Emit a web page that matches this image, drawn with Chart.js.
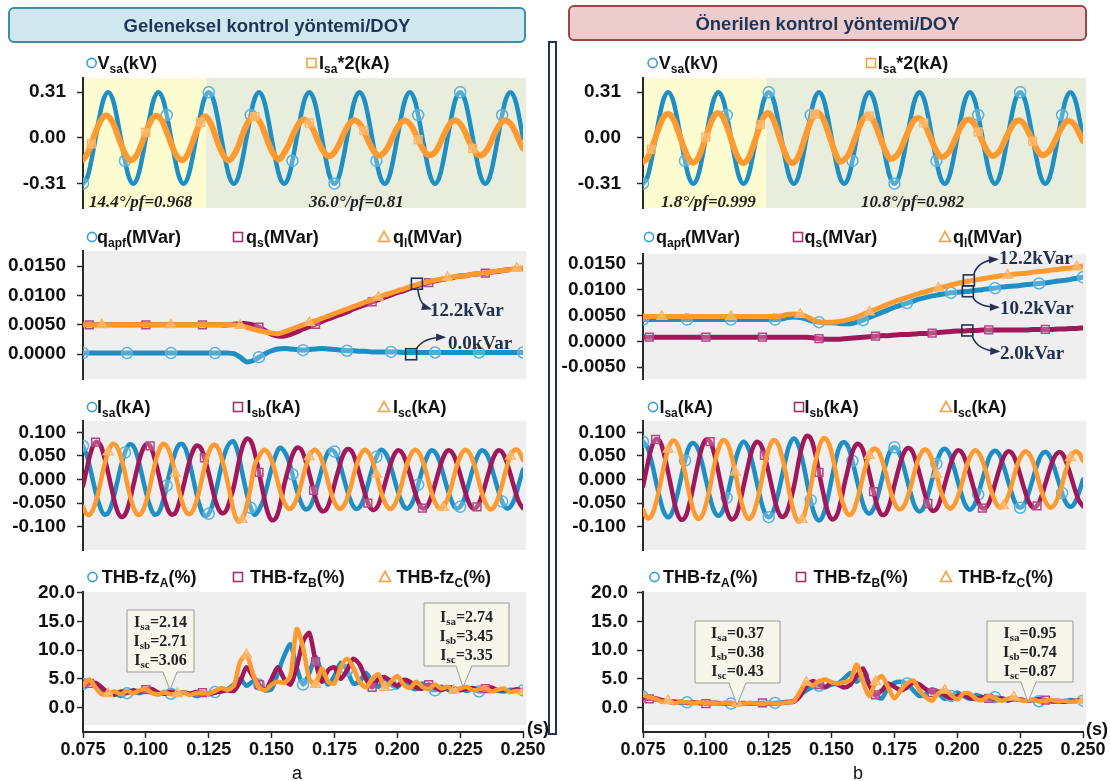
<!DOCTYPE html>
<html><head><meta charset="utf-8">
<script src="https://cdn.jsdelivr.net/npm/chart.js@4.4.1/dist/chart.umd.min.js"></script>
<style>
html,body{margin:0;padding:0;background:#fff;}
#page{position:relative;width:1110px;height:781px;overflow:hidden;}
.pn{position:absolute;}
#ov{position:absolute;left:0;top:0;pointer-events:none;}
.lg{font:bold 18px "Liberation Sans",Arial,sans-serif;fill:#111}
.sb{font-size:12px}
.ttl{font:bold 18.5px "Liberation Sans",Arial,sans-serif;fill:#1d3557}
.pf{font:italic bold 17px "Liberation Serif","Times New Roman",serif;fill:#222}
.kv{font:bold 19px "Liberation Serif","Times New Roman",serif;fill:#22304d}
.co{font:bold 16px "Liberation Serif","Times New Roman",serif;fill:#222}
.cs{font-size:11px}
.ax{font:bold 18px "Liberation Sans",Arial,sans-serif;fill:#111}
.ab{font:18px "Liberation Sans",Arial,sans-serif;fill:#111}
</style></head><body><div id="page">
<div id="charts"></div>
<svg id="ov" width="1110" height="781" xmlns="http://www.w3.org/2000/svg">
<rect x="9" y="8" width="516" height="34" rx="5" fill="#cfe7ef" stroke="#3f8ea3" stroke-width="2"/>
<text class="ttl" x="267" y="31.5" text-anchor="middle">Geleneksel kontrol yöntemi/DOY</text>
<rect x="569" y="6" width="517" height="34" rx="5" fill="#eccccc" stroke="#9e4646" stroke-width="2"/>
<text class="ttl" x="827.5" y="29.5" text-anchor="middle">Önerilen kontrol yöntemi/DOY</text>
<rect x="549" y="42" width="7" height="692" fill="#fff" stroke="#1e3555" stroke-width="2"/>

<!-- row 1 legends -->
<circle cx="91.6" cy="63" r="4.6" fill="none" stroke="#3aa0d2" stroke-width="1.6"/>
<text class="lg" x="97.5" y="69">V<tspan class="sb" dy="4">sa</tspan><tspan dy="-4">(kV)</tspan></text>
<rect x="307" y="58.5" width="9" height="9" fill="none" stroke="#f7a045" stroke-width="1.6"/>
<text class="lg" x="319" y="69">I<tspan class="sb" dy="4">sa</tspan><tspan dy="-4">*2(kA)</tspan></text>
<circle cx="652.7" cy="63" r="4.6" fill="none" stroke="#3aa0d2" stroke-width="1.6"/>
<text class="lg" x="658.7" y="69">V<tspan class="sb" dy="4">sa</tspan><tspan dy="-4">(kV)</tspan></text>
<rect x="866.5" y="58.5" width="9" height="9" fill="none" stroke="#f7a045" stroke-width="1.6"/>
<text class="lg" x="877.8" y="69">I<tspan class="sb" dy="4">sa</tspan><tspan dy="-4">*2(kA)</tspan></text>

<!-- row 2 legends -->
<circle cx="92" cy="237" r="4.6" fill="none" stroke="#3aa0d2" stroke-width="1.6"/>
<text class="lg" x="97" y="243">q<tspan class="sb" dy="4">apf</tspan><tspan dy="-4">(MVar)</tspan></text>
<rect x="233.5" y="232.5" width="9" height="9" fill="none" stroke="#a2326c" stroke-width="1.6"/>
<text class="lg" x="246" y="243">q<tspan class="sb" dy="4">s</tspan><tspan dy="-4">(MVar)</tspan></text>
<polygon points="384,231.5 389.5,241.5 378.5,241.5" fill="none" stroke="#f7a045" stroke-width="1.6"/>
<text class="lg" x="393" y="243">q<tspan class="sb" dy="4">l</tspan><tspan dy="-4">(MVar)</tspan></text>
<circle cx="649" cy="237" r="4.6" fill="none" stroke="#3aa0d2" stroke-width="1.6"/>
<text class="lg" x="656" y="243">q<tspan class="sb" dy="4">apf</tspan><tspan dy="-4">(MVar)</tspan></text>
<rect x="793.5" y="232.5" width="9" height="9" fill="none" stroke="#a2326c" stroke-width="1.6"/>
<text class="lg" x="804.6" y="243">q<tspan class="sb" dy="4">s</tspan><tspan dy="-4">(MVar)</tspan></text>
<polygon points="945,231.5 950.5,241.5 939.5,241.5" fill="none" stroke="#f7a045" stroke-width="1.6"/>
<text class="lg" x="953" y="243">q<tspan class="sb" dy="4">l</tspan><tspan dy="-4">(MVar)</tspan></text>

<!-- row 3 legends -->
<circle cx="92" cy="407" r="4.6" fill="none" stroke="#3aa0d2" stroke-width="1.6"/>
<text class="lg" x="97" y="413">I<tspan class="sb" dy="4">sa</tspan><tspan dy="-4">(kA)</tspan></text>
<rect x="233.5" y="402.5" width="9" height="9" fill="none" stroke="#a2326c" stroke-width="1.6"/>
<text class="lg" x="246.4" y="413">I<tspan class="sb" dy="4">sb</tspan><tspan dy="-4">(kA)</tspan></text>
<polygon points="384,401.5 389.5,411.5 378.5,411.5" fill="none" stroke="#f7a045" stroke-width="1.6"/>
<text class="lg" x="393" y="413">I<tspan class="sb" dy="4">sc</tspan><tspan dy="-4">(kA)</tspan></text>
<circle cx="653" cy="407" r="4.6" fill="none" stroke="#3aa0d2" stroke-width="1.6"/>
<text class="lg" x="659.4" y="413">I<tspan class="sb" dy="4">sa</tspan><tspan dy="-4">(kA)</tspan></text>
<rect x="794.5" y="402.5" width="9" height="9" fill="none" stroke="#a2326c" stroke-width="1.6"/>
<text class="lg" x="804.6" y="413">I<tspan class="sb" dy="4">sb</tspan><tspan dy="-4">(kA)</tspan></text>
<polygon points="946,401.5 951.5,411.5 940.5,411.5" fill="none" stroke="#f7a045" stroke-width="1.6"/>
<text class="lg" x="953" y="413">I<tspan class="sb" dy="4">sc</tspan><tspan dy="-4">(kA)</tspan></text>

<!-- row 4 legends -->
<circle cx="92.5" cy="577" r="4.6" fill="none" stroke="#3aa0d2" stroke-width="1.6"/>
<text class="lg" x="101.8" y="583">THB-fz<tspan class="sb" dy="4">A</tspan><tspan dy="-4">(%)</tspan></text>
<rect x="233.5" y="572.5" width="9" height="9" fill="none" stroke="#a2326c" stroke-width="1.6"/>
<text class="lg" x="250" y="583">THB-fz<tspan class="sb" dy="4">B</tspan><tspan dy="-4">(%)</tspan></text>
<polygon points="385,571.5 390.5,581.5 379.5,581.5" fill="none" stroke="#f7a045" stroke-width="1.6"/>
<text class="lg" x="396.4" y="583">THB-fz<tspan class="sb" dy="4">C</tspan><tspan dy="-4">(%)</tspan></text>
<circle cx="654.5" cy="577" r="4.6" fill="none" stroke="#3aa0d2" stroke-width="1.6"/>
<text class="lg" x="663" y="583">THB-fz<tspan class="sb" dy="4">A</tspan><tspan dy="-4">(%)</tspan></text>
<rect x="796.5" y="572.5" width="9" height="9" fill="none" stroke="#a2326c" stroke-width="1.6"/>
<text class="lg" x="813.4" y="583">THB-fz<tspan class="sb" dy="4">B</tspan><tspan dy="-4">(%)</tspan></text>
<polygon points="946,571.5 951.5,581.5 940.5,581.5" fill="none" stroke="#f7a045" stroke-width="1.6"/>
<text class="lg" x="958.5" y="583">THB-fz<tspan class="sb" dy="4">C</tspan><tspan dy="-4">(%)</tspan></text>

<!-- row 1 notes -->
<text class="pf" x="89" y="207">14.4°/pf=0.968</text>
<text class="pf" x="309" y="207">36.0°/pf=0.81</text>
<text class="pf" x="661" y="207">1.8°/pf=0.999</text>
<text class="pf" x="861" y="207">10.8°/pf=0.982</text>

<!-- kVar notes -->
<text class="kv" x="430" y="316">12.2kVar</text>
<text class="kv" x="448" y="349">0.0kVar</text>
<text class="kv" x="999" y="264">12.2kVar</text>
<text class="kv" x="1000" y="314">10.2kVar</text>
<text class="kv" x="1000" y="359">2.0kVar</text>

<!-- callouts -->
<path d="M127,610 H194 V672 H177 L170,690 L163,672 H127 Z" fill="#f6f6ea" stroke="#9a9a9a" stroke-width="1"/>
<text class="co" x="160.5" y="627" text-anchor="middle">I<tspan class="cs" dy="3">sa</tspan><tspan dy="-3">=2.14</tspan></text>
<text class="co" x="160.5" y="646" text-anchor="middle">I<tspan class="cs" dy="3">sb</tspan><tspan dy="-3">=2.71</tspan></text>
<text class="co" x="160.5" y="665" text-anchor="middle">I<tspan class="cs" dy="3">sc</tspan><tspan dy="-3">=3.06</tspan></text>
<path d="M424,603 H509 V666 H472 L463,687 L456,666 H424 Z" fill="#f6f6ea" stroke="#9a9a9a" stroke-width="1"/>
<text class="co" x="466.5" y="622" text-anchor="middle">I<tspan class="cs" dy="3">sa</tspan><tspan dy="-3">=2.74</tspan></text>
<text class="co" x="466.5" y="641" text-anchor="middle">I<tspan class="cs" dy="3">sb</tspan><tspan dy="-3">=3.45</tspan></text>
<text class="co" x="466.5" y="660" text-anchor="middle">I<tspan class="cs" dy="3">sc</tspan><tspan dy="-3">=3.35</tspan></text>
<path d="M695,621 H780 V683 H746 L737,705 L729,683 H695 Z" fill="#f6f6ea" stroke="#9a9a9a" stroke-width="1"/>
<text class="co" x="737.5" y="638" text-anchor="middle">I<tspan class="cs" dy="3">sa</tspan><tspan dy="-3">=0.37</tspan></text>
<text class="co" x="737.5" y="657" text-anchor="middle">I<tspan class="cs" dy="3">sb</tspan><tspan dy="-3">=0.38</tspan></text>
<text class="co" x="737.5" y="676" text-anchor="middle">I<tspan class="cs" dy="3">sc</tspan><tspan dy="-3">=0.43</tspan></text>
<path d="M987,621 H1073 V682 H1036 L1028,702 L1021,682 H987 Z" fill="#f6f6ea" stroke="#9a9a9a" stroke-width="1"/>
<text class="co" x="1030" y="638" text-anchor="middle">I<tspan class="cs" dy="3">sa</tspan><tspan dy="-3">=0.95</tspan></text>
<text class="co" x="1030" y="657" text-anchor="middle">I<tspan class="cs" dy="3">sb</tspan><tspan dy="-3">=0.74</tspan></text>
<text class="co" x="1030" y="676" text-anchor="middle">I<tspan class="cs" dy="3">sc</tspan><tspan dy="-3">=0.87</tspan></text>

<text class="ax" x="527" y="734">(s)</text>
<text class="ax" x="1086" y="735">(s)</text>
<text class="ab" x="297" y="779" text-anchor="middle">a</text>
<text class="ab" x="858" y="779" text-anchor="middle">b</text>
</svg>
</div>
<script>
// ---------- time grids (s) ----------
const tFine = [
0.0750,0.0767,0.0783,0.0800,0.0817,0.0833,0.0850,0.0867,0.0883,0.0900,0.0917,0.0933,
0.0950,0.0967,0.0983,0.1000,0.1017,0.1033,0.1050,0.1067,0.1083,0.1100,0.1117,0.1133,
0.1150,0.1167,0.1183,0.1200,0.1217,0.1233,0.1250,0.1267,0.1283,0.1300,0.1317,0.1333,
0.1350,0.1367,0.1383,0.1400,0.1417,0.1433,0.1450,0.1467,0.1483,0.1500,0.1517,0.1533,
0.1550,0.1567,0.1583,0.1600,0.1617,0.1633,0.1650,0.1667,0.1683,0.1700,0.1717,0.1733,
0.1750,0.1767,0.1783,0.1800,0.1817,0.1833,0.1850,0.1867,0.1883,0.1900,0.1917,0.1933,
0.1950,0.1967,0.1983,0.2000,0.2017,0.2033,0.2050,0.2067,0.2083,0.2100,0.2117,0.2133,
0.2150,0.2167,0.2183,0.2200,0.2217,0.2233,0.2250,0.2267,0.2283,0.2300,0.2317,0.2333,
0.2350,0.2367,0.2383,0.2400,0.2417,0.2433,0.2450,0.2467,0.2483,0.2500];
const tHalf = [
0.0750,0.0775,0.0800,0.0825,0.0850,0.0875,0.0900,0.0925,0.0950,0.0975,
0.1000,0.1025,0.1050,0.1075,0.1100,0.1125,0.1150,0.1175,0.1200,0.1225,
0.1250,0.1275,0.1300,0.1325,0.1350,0.1375,0.1400,0.1425,0.1450,0.1475,
0.1500,0.1525,0.1550,0.1575,0.1600,0.1625,0.1650,0.1675,0.1700,0.1725,
0.1750,0.1775,0.1800,0.1825,0.1850,0.1875,0.1900,0.1925,0.1950,0.1975,
0.2000,0.2025,0.2050,0.2075,0.2100,0.2125,0.2150,0.2175,0.2200,0.2225,
0.2250,0.2275,0.2300,0.2325,0.2350,0.2375,0.2400,0.2425,0.2450,0.2475,
0.2500];

// ---------- row 1: Vsa (kV) and Isa*2 (kA) ----------
const vsa = [
-0.310,-0.268,-0.155,0,0.155,0.268,0.310,0.268,0.155,0,-0.155,-0.268,
-0.310,-0.268,-0.155,0,0.155,0.268,0.310,0.268,0.155,0,-0.155,-0.268,
-0.310,-0.268,-0.155,0,0.155,0.268,0.310,0.268,0.155,0,-0.155,-0.268,
-0.310,-0.268,-0.155,0,0.155,0.268,0.310,0.268,0.155,0,-0.155,-0.268,
-0.310,-0.268,-0.155,0,0.155,0.268,0.310,0.268,0.155,0,-0.155,-0.268,
-0.310,-0.268,-0.155,0,0.155,0.268,0.310,0.268,0.155,0,-0.155,-0.268,
-0.310,-0.268,-0.155,0,0.155,0.268,0.310,0.268,0.155,0,-0.155,-0.268,
-0.310,-0.268,-0.155,0,0.155,0.268,0.310,0.268,0.155,0,-0.155,-0.268,
-0.310,-0.268,-0.155,0,0.155,0.268,0.310,0.268,0.155,0];
const isaL = [
-0.147,-0.109,-0.041,0.038,0.106,0.146,0.147,0.109,0.041,-0.038,-0.106,-0.146,
-0.145,-0.107,-0.040,0.037,0.105,0.144,0.145,0.107,0.040,-0.037,-0.105,-0.144,
-0.147,-0.109,-0.041,0.038,0.106,0.146,0.123,0.062,-0.016,-0.089,-0.139,-0.151,
-0.117,-0.059,0.015,0.085,0.132,0.144,0.117,0.059,-0.015,-0.085,-0.132,-0.144,
-0.101,-0.051,0.013,0.073,0.114,0.124,0.101,0.051,-0.013,-0.073,-0.114,-0.124,
-0.097,-0.049,0.013,0.071,0.110,0.119,0.097,0.049,-0.013,-0.071,-0.110,-0.119,
-0.095,-0.048,0.012,0.069,0.108,0.117,0.095,0.048,-0.012,-0.069,-0.108,-0.117,
-0.097,-0.049,0.013,0.071,0.110,0.119,0.097,0.049,-0.013,-0.071,-0.110,-0.119,
-0.097,-0.049,0.013,0.071,0.110,0.119,0.097,0.049,-0.013,-0.071];
const isaR = [
-0.162,-0.138,-0.077,0.005,0.085,0.143,0.162,0.138,0.077,-0.005,-0.085,-0.143,
-0.168,-0.143,-0.079,0.005,0.089,0.148,0.168,0.143,0.079,-0.005,-0.089,-0.148,
-0.170,-0.144,-0.080,0.005,0.090,0.150,0.167,0.129,0.056,-0.032,-0.111,-0.161,
-0.167,-0.129,-0.056,0.032,0.111,0.161,0.167,0.129,0.056,-0.032,-0.111,-0.161,
-0.147,-0.114,-0.049,0.028,0.098,0.142,0.147,0.114,0.049,-0.028,-0.098,-0.142,
-0.133,-0.102,-0.044,0.025,0.088,0.127,0.133,0.102,0.044,-0.025,-0.088,-0.127,
-0.123,-0.095,-0.041,0.023,0.082,0.118,0.123,0.095,0.041,-0.023,-0.082,-0.118,
-0.118,-0.091,-0.039,0.022,0.078,0.113,0.118,0.091,0.039,-0.022,-0.078,-0.113,
-0.113,-0.087,-0.038,0.022,0.075,0.109,0.113,0.087,0.038,-0.022];

// ---------- row 2: reactive power (MVar) ----------
const qapfL = [
0.0002,0.0002,0.0002,0.0002,0.0002,0.0002,0.0002,0.0002,0.0002,0.0002,
0.0002,0.0002,0.0002,0.0002,0.0002,0.0002,0.0002,0.0002,0.0002,0.0002,
0.0002,0.0002,0.0002,0.0002,0.0001,-0.0005,-0.0013,-0.0011,-0.0005,0.0001,
0.0006,0.0009,0.0010,0.0009,0.0008,0.0007,0.0008,0.0009,0.0010,0.0009,
0.0008,0.0007,0.0006,0.0006,0.0005,0.0005,0.0004,0.0004,0.0004,0.0004,
0.0004,0.0003,0.0003,0.0003,0.0003,0.0003,0.0003,0.0003,0.0003,0.0003,
0.0003,0.0003,0.0003,0.0003,0.0003,0.0003,0.0003,0.0003,0.0003,0.0003,
0.0003];
const qsL = [
0.0050,0.0050,0.0050,0.0050,0.0050,0.0050,0.0050,0.0050,0.0050,0.0050,
0.0050,0.0050,0.0050,0.0050,0.0050,0.0050,0.0050,0.0050,0.0050,0.0050,
0.0050,0.0050,0.0050,0.0050,0.0051,0.0052,0.0052,0.0050,0.0046,0.0040,
0.0034,0.0031,0.0031,0.0034,0.0038,0.0043,0.0047,0.0051,0.0056,0.0060,
0.0064,0.0068,0.0072,0.0077,0.0081,0.0085,0.0089,0.0093,0.0097,0.0101,
0.0105,0.0108,0.0112,0.0116,0.0119,0.0122,0.0125,0.0127,0.0129,0.0131,
0.0133,0.0134,0.0136,0.0137,0.0138,0.0140,0.0141,0.0143,0.0144,0.0145,
0.0146];
const qlL = [
0.0050,0.0050,0.0050,0.0050,0.0050,0.0050,0.0050,0.0050,0.0050,0.0050,
0.0050,0.0050,0.0050,0.0050,0.0050,0.0050,0.0050,0.0050,0.0050,0.0050,
0.0050,0.0050,0.0050,0.0050,0.0050,0.0049,0.0046,0.0043,0.0040,0.0038,
0.0036,0.0035,0.0038,0.0042,0.0046,0.0050,0.0054,0.0057,0.0061,0.0065,
0.0069,0.0073,0.0077,0.0081,0.0085,0.0089,0.0093,0.0097,0.0101,0.0104,
0.0108,0.0111,0.0115,0.0118,0.0121,0.0124,0.0126,0.0128,0.0130,0.0132,
0.0133,0.0134,0.0136,0.0137,0.0139,0.0140,0.0142,0.0143,0.0144,0.0146,
0.0147];
const qapfR = [
0.0042,0.0042,0.0042,0.0042,0.0042,0.0042,0.0042,0.0042,0.0042,0.0042,
0.0042,0.0042,0.0042,0.0042,0.0042,0.0042,0.0042,0.0042,0.0042,0.0042,
0.0042,0.0042,0.0043,0.0046,0.0047,0.0046,0.0043,0.0039,0.0037,0.0036,
0.0036,0.0035,0.0034,0.0034,0.0037,0.0041,0.0046,0.0051,0.0056,0.0061,
0.0066,0.0070,0.0074,0.0078,0.0082,0.0085,0.0088,0.0090,0.0092,0.0094,
0.0095,0.0096,0.0097,0.0099,0.0100,0.0102,0.0103,0.0105,0.0106,0.0107,
0.0108,0.0110,0.0111,0.0112,0.0113,0.0115,0.0117,0.0118,0.0120,0.0122,
0.0124];
const qsR = [
0.0008,0.0008,0.0008,0.0008,0.0008,0.0008,0.0008,0.0008,0.0008,0.0008,
0.0008,0.0008,0.0008,0.0008,0.0008,0.0008,0.0008,0.0008,0.0008,0.0008,
0.0008,0.0008,0.0008,0.0008,0.0008,0.0008,0.0008,0.0007,0.0005,0.0004,
0.0004,0.0004,0.0005,0.0006,0.0007,0.0008,0.0009,0.0010,0.0011,0.0011,
0.0012,0.0013,0.0013,0.0014,0.0015,0.0015,0.0016,0.0017,0.0018,0.0019,
0.0020,0.0020,0.0021,0.0021,0.0022,0.0022,0.0022,0.0022,0.0022,0.0022,
0.0022,0.0022,0.0023,0.0023,0.0023,0.0023,0.0024,0.0024,0.0025,0.0025,
0.0026];
const qlR = [
0.0048,0.0048,0.0048,0.0048,0.0048,0.0048,0.0048,0.0048,0.0048,0.0048,
0.0048,0.0048,0.0048,0.0048,0.0048,0.0048,0.0048,0.0048,0.0048,0.0048,
0.0048,0.0048,0.0049,0.0052,0.0053,0.0052,0.0048,0.0042,0.0038,0.0037,
0.0037,0.0038,0.0040,0.0043,0.0047,0.0052,0.0057,0.0062,0.0067,0.0072,
0.0077,0.0081,0.0085,0.0089,0.0093,0.0096,0.0100,0.0103,0.0106,0.0109,
0.0112,0.0115,0.0117,0.0119,0.0121,0.0123,0.0125,0.0127,0.0128,0.0130,
0.0131,0.0132,0.0134,0.0135,0.0136,0.0138,0.0139,0.0141,0.0142,0.0144,
0.0146];
// marked points [t, value] for the kVar notes
const kvarPtsL = [[0.2078,0.0120],[0.2055,0.0000]];
const kvarPtsR = [[0.2046,0.0118],[0.2042,0.0097],[0.2040,0.0021]];

// ---------- row 3: phase currents (kA) ----------
const iaL = [
0.071,0.048,0.013,-0.026,-0.057,-0.074,-0.071,-0.048,-0.013,0.026,0.057,0.074,
0.071,0.048,0.013,-0.026,-0.057,-0.074,-0.071,-0.048,-0.013,0.026,0.057,0.074,
0.073,0.050,0.014,-0.027,-0.060,-0.077,-0.073,-0.050,-0.014,0.027,0.060,0.077,
0.080,0.055,0.015,-0.027,-0.060,-0.075,-0.064,-0.044,-0.012,0.023,0.052,0.067,
0.060,0.041,0.011,-0.022,-0.049,-0.063,-0.060,-0.041,-0.011,0.022,0.049,0.063,
0.059,0.041,0.011,-0.022,-0.048,-0.062,-0.059,-0.041,-0.011,0.022,0.048,0.062,
0.058,0.040,0.011,-0.021,-0.047,-0.061,-0.058,-0.040,-0.011,0.021,0.047,0.061,
0.058,0.040,0.011,-0.021,-0.047,-0.061,-0.058,-0.040,-0.011,0.021,0.047,0.061,
0.058,0.040,0.011,-0.021,-0.047,-0.061,-0.058,-0.040,-0.011,0.021];
const ibL = [
-0.014,0.027,0.061,0.079,0.075,0.051,0.014,-0.027,-0.061,-0.079,-0.075,-0.051,
-0.013,0.026,0.057,0.074,0.071,0.048,0.013,-0.026,-0.057,-0.074,-0.071,-0.048,
-0.013,0.025,0.055,0.071,0.068,0.046,0.013,-0.025,-0.055,-0.071,-0.068,-0.046,
-0.015,0.030,0.067,0.086,0.082,0.056,0.015,-0.030,-0.067,-0.086,-0.082,-0.056,
-0.012,0.023,0.052,0.067,0.064,0.044,0.012,-0.023,-0.052,-0.067,-0.064,-0.044,
-0.011,0.022,0.050,0.064,0.061,0.042,0.011,-0.022,-0.050,-0.064,-0.061,-0.042,
-0.011,0.021,0.047,0.061,0.058,0.040,0.011,-0.021,-0.047,-0.061,-0.058,-0.040,
-0.011,0.021,0.047,0.061,0.058,0.040,0.011,-0.021,-0.047,-0.061,-0.058,-0.040,
-0.011,0.021,0.047,0.061,0.058,0.040,0.011,-0.021,-0.047,-0.061];
const icL = [
-0.058,-0.075,-0.071,-0.049,-0.013,0.026,0.058,0.075,0.071,0.049,0.013,-0.026,
-0.058,-0.075,-0.071,-0.049,-0.013,0.026,0.058,0.075,0.071,0.049,0.013,-0.026,
-0.057,-0.073,-0.070,-0.048,-0.013,0.025,0.057,0.073,0.070,0.048,0.013,-0.025,
-0.069,-0.089,-0.085,-0.058,-0.016,0.031,0.048,0.062,0.059,0.041,0.011,-0.022,
-0.048,-0.062,-0.059,-0.041,-0.011,0.022,0.048,0.062,0.059,0.041,0.011,-0.022,
-0.048,-0.062,-0.059,-0.041,-0.011,0.022,0.048,0.062,0.059,0.041,0.011,-0.022,
-0.048,-0.062,-0.059,-0.041,-0.011,0.022,0.048,0.062,0.059,0.041,0.011,-0.022,
-0.048,-0.062,-0.059,-0.041,-0.011,0.022,0.048,0.062,0.059,0.041,0.011,-0.022,
-0.049,-0.063,-0.060,-0.041,-0.011,0.022,0.049,0.063,0.060,0.041];
const iaR = [
0.080,0.069,0.040,0.000,-0.040,-0.069,-0.080,-0.069,-0.040,0.000,0.040,0.069,
0.077,0.067,0.039,0.000,-0.039,-0.067,-0.077,-0.067,-0.039,0.000,0.039,0.067,
0.080,0.069,0.040,0.000,-0.040,-0.069,-0.080,-0.069,-0.040,0.000,0.042,0.074,
0.087,0.075,0.044,0.000,-0.044,-0.075,-0.087,-0.075,-0.044,0.000,0.042,0.071,
0.079,0.068,0.039,0.000,-0.037,-0.063,-0.072,-0.062,-0.036,0.000,0.035,0.060,
0.068,0.059,0.034,0.000,-0.034,-0.059,-0.068,-0.059,-0.034,0.000,0.033,0.057,
0.065,0.056,0.032,0.000,-0.032,-0.055,-0.064,-0.055,-0.032,0.000,0.031,0.053,
0.061,0.053,0.030,0.000,-0.030,-0.052,-0.060,-0.052,-0.030,0.000,0.030,0.051,
0.058,0.050,0.029,0.000,-0.029,-0.050,-0.058,-0.050,-0.029,0.000];
const ibR = [
-0.015,0.029,0.066,0.085,0.081,0.055,0.015,-0.029,-0.066,-0.085,-0.081,-0.055,
-0.015,0.029,0.065,0.084,0.080,0.055,0.015,-0.029,-0.065,-0.084,-0.080,-0.055,
-0.014,0.027,0.061,0.079,0.075,0.051,0.014,-0.027,-0.061,-0.079,-0.075,-0.051,
-0.016,0.032,0.071,0.092,0.087,0.060,0.015,-0.029,-0.065,-0.084,-0.080,-0.055,
-0.013,0.026,0.058,0.075,0.071,0.049,0.013,-0.026,-0.058,-0.075,-0.071,-0.049,
-0.012,0.023,0.051,0.066,0.063,0.043,0.012,-0.023,-0.051,-0.066,-0.063,-0.043,
-0.011,0.021,0.047,0.061,0.058,0.040,0.011,-0.021,-0.047,-0.061,-0.058,-0.040,
-0.010,0.021,0.046,0.059,0.056,0.039,0.010,-0.021,-0.046,-0.059,-0.056,-0.039,
-0.010,0.020,0.044,0.057,0.055,0.037,0.010,-0.020,-0.044,-0.057];
const icR = [
-0.064,-0.082,-0.078,-0.053,-0.014,0.028,0.064,0.082,0.078,0.053,0.014,-0.028,
-0.064,-0.083,-0.079,-0.054,-0.015,0.029,0.064,0.083,0.079,0.054,0.015,-0.029,
-0.064,-0.083,-0.079,-0.054,-0.015,0.029,0.064,0.083,0.079,0.054,0.015,-0.029,
-0.069,-0.089,-0.085,-0.058,-0.016,0.031,0.067,0.087,0.083,0.057,0.015,-0.028,
-0.058,-0.075,-0.071,-0.047,-0.012,0.023,0.051,0.065,0.062,0.042,0.011,-0.022,
-0.049,-0.063,-0.060,-0.041,-0.011,0.022,0.049,0.063,0.060,0.041,0.011,-0.022,
-0.047,-0.061,-0.058,-0.040,-0.011,0.021,0.047,0.061,0.058,0.040,0.011,-0.021,
-0.046,-0.059,-0.056,-0.039,-0.010,0.021,0.046,0.059,0.056,0.039,0.010,-0.021,
-0.046,-0.059,-0.056,-0.039,-0.010,0.021,0.046,0.059,0.056,0.039];

// ---------- row 4: THD (%) ----------
const thdAL = [
4.1,4.6,4.0,3.0,2.4,2.6,2.0,2.5,2.8,2.5, 2.9,2.6,2.3,2.7,2.4,2.2,2.6,2.4,2.0,2.3,
2.5,2.7,3.0,3.2,4.0,5.0,3.8,4.5,4.0,3.0, 3.2,6.0,9.0,11.0,7.0,4.0,6.0,8.8,6.0,4.0,
5.5,7.8,6.5,4.2,4.5,6.0,4.5,3.6,5.2,4.0, 3.5,4.6,3.6,3.2,4.2,3.3,3.0,3.6,3.1,2.8,
3.3,2.9,3.2,2.8,3.0,3.2,2.9,2.8,3.1,3.0, 3.0];
const thdBL = [
3.8,4.2,4.3,3.5,2.6,2.2,2.8,2.6,3.0,2.8, 3.1,3.2,2.6,2.4,2.8,2.5,2.6,2.4,2.7,2.6,
2.3,2.6,2.8,3.0,2.9,4.5,7.0,5.5,4.0,3.0, 5.0,7.0,5.0,4.0,7.0,11.5,13.0,8.0,4.5,6.5,
7.0,5.0,6.5,8.5,7.5,5.0,3.5,5.0,5.3,4.5, 3.8,4.8,4.5,3.5,3.3,4.0,3.5,3.0,3.5,3.4,
3.0,3.3,3.4,3.1,3.3,3.5,3.0,3.1,2.8,3.2, 2.9];
const thdCL = [
3.8,4.9,3.5,2.3,2.4,2.8,2.3,2.9,2.5,3.0, 3.2,2.5,2.3,2.6,2.3,2.4,2.6,2.2,2.5,2.6,
2.4,2.9,3.4,3.1,3.8,8.0,9.2,6.0,3.5,3.0, 4.0,4.5,4.3,5.5,13.7,10.5,5.0,4.0,6.8,4.5,
4.2,7.0,8.5,7.0,4.5,3.5,5.0,5.8,3.5,4.5, 5.5,4.0,3.4,4.5,3.6,3.2,4.0,3.3,3.6,3.0,
3.3,3.6,3.0,3.2,3.4,2.8,3.1,3.3,2.7,2.9, 2.8];
const thdAR = [
1.9,1.6,1.4,1.2,1.0,1.1,0.8,0.9,0.8,0.8, 0.8,0.8,0.7,0.8,0.7,0.8,0.7,0.8,0.7,0.8,
0.8,0.8,0.9,1.0,1.2,2.2,3.0,3.6,3.8,3.5, 4.0,4.2,5.0,6.0,4.5,5.5,4.0,2.0,1.6,3.5,
4.3,4.5,4.2,3.0,2.0,2.4,3.2,2.5,1.5,2.0, 2.6,2.0,1.5,2.2,1.8,1.4,1.8,1.6,1.2,1.5,
1.4,1.2,1.3,1.1,1.2,1.1,1.0,1.1,1.3,1.1, 1.2];
const thdBR = [
1.7,1.5,1.6,1.3,1.0,0.9,1.0,0.8,0.9,0.8, 0.7,0.8,0.8,0.7,0.8,0.7,0.8,0.7,0.7,0.8,
0.7,0.7,0.8,0.9,1.0,2.0,3.8,4.6,4.0,3.6, 4.3,4.0,3.5,4.0,5.5,6.8,4.0,2.2,3.0,4.2,
3.6,3.0,3.5,4.3,4.0,3.2,2.6,2.8,2.2,1.6, 2.0,2.2,1.7,1.5,1.8,1.6,1.4,1.6,1.3,1.5,
1.4,1.2,1.3,1.5,1.3,1.1,1.2,1.0,1.1,1.2, 1.2];
const thdCR = [
2.2,1.8,1.5,1.0,1.2,0.8,1.0,0.9,0.8,0.9, 0.8,0.8,0.7,0.8,0.8,0.7,0.7,0.8,0.7,0.7,
0.8,0.7,0.8,0.9,1.1,2.8,4.4,3.8,4.6,4.9, 4.4,4.2,4.4,4.8,7.5,4.5,2.0,4.5,5.5,3.5,
1.6,3.0,4.2,4.7,3.0,1.8,1.2,2.5,3.0,2.2, 1.4,2.5,2.4,1.5,1.3,2.0,1.6,1.2,1.5,1.8,
1.3,1.2,1.4,1.1,1.2,1.3,1.1,1.2,1.0,1.1, 1.2];

// ---------- ticks ----------
const xTicks = [0.075,0.100,0.125,0.150,0.175,0.200,0.225,0.250];
const vTicks = [-0.31,0,0.31];
const qTicksL = [0,0.005,0.010,0.015];
const qTicksR = [-0.005,0,0.005,0.010,0.015];
const iTicks = [-0.1,-0.05,0,0.05,0.1];
const thdTicks = [0,5,10,15,20];
const pfChangeT = 0.124;

// ---------- styling ----------
const BLUE='#1e8fc4', ORG='#ff9a30', MAG='#a0185a';
const MB='#52b2e2', MO='#ffb462', MM='#b4468a';
const FONT="'Liberation Sans', Arial, sans-serif";

const bgPlugin = {
  id:'bg',
  beforeDraw(chart, args, o){
    const a = chart.chartArea, ctx = chart.ctx, x = chart.scales.x;
    const bottom = a.bottom - (o.bottomGap||0), right = a.right + 3;
    ctx.save();
    if (o.split){
      const xs = x.getPixelForValue(o.split);
      ctx.fillStyle = o.c1; ctx.fillRect(a.left, a.top, xs-a.left, bottom-a.top);
      ctx.fillStyle = o.c2; ctx.fillRect(xs, a.top, right-xs, bottom-a.top);
    } else {
      ctx.fillStyle = o.c; ctx.fillRect(a.left, a.top, right-a.left, bottom-a.top);
    }
    ctx.restore();
  }
};
const marksPlugin = {
  id:'marks',
  afterDatasetsDraw(chart, args, o){
    if (!o || !o.pts) return;
    const ctx = chart.ctx, x = chart.scales.x, y = chart.scales.y;
    ctx.save();
    ctx.strokeStyle='#26324f'; ctx.fillStyle='#26324f'; ctx.lineWidth=1.6;
    for (let i=0;i<o.pts.length;i++){
      const p=o.pts[i], g=o.arrows[i];
      const px=x.getPixelForValue(p[0]), py=y.getPixelForValue(p[1]);
      ctx.strokeRect(px-5.5, py-5.5, 11, 11);
      const sx=px+g[0], sy=py+g[1], cx=px+g[2], cy=py+g[3], ex=px+g[4], ey=py+g[5];
      ctx.beginPath(); ctx.moveTo(sx,sy); ctx.quadraticCurveTo(cx,cy,ex,ey); ctx.stroke();
      const an=Math.atan2(ey-cy, ex-cx), L=8, W=3.8;
      ctx.beginPath();
      ctx.moveTo(ex+Math.cos(an)*2, ey+Math.sin(an)*2);
      ctx.lineTo(ex-Math.cos(an)*L+Math.sin(an)*W, ey-Math.sin(an)*L-Math.cos(an)*W);
      ctx.lineTo(ex-Math.cos(an)*L-Math.sin(an)*W, ey-Math.sin(an)*L+Math.cos(an)*W);
      ctx.closePath(); ctx.fill();
    }
    ctx.restore();
  }
};

function S(t, vals, color, mcolor, shape, every, off, order, bw, tension){
  return {
    data: t.map((tt,i)=>({x:tt, y:vals[i]})),
    borderColor: color, borderWidth: bw||4, tension: tension==null?0.4:tension,
    borderCapStyle:'round', borderJoinStyle:'round',
    pointStyle: shape, pointRadius: c => (c.index % every === off ? 5.5 : 0),
    pointBorderColor: mcolor, pointBackgroundColor:'rgba(255,255,255,0.25)', pointBorderWidth:1.5,
    pointHoverRadius:0, fill:false, order: order
  };
}

const COL = { L:{left:0, w:560, yw:83, padR:37}, R:{left:557, w:553, yw:86, padR:27} };

function makePanel(p){
  const c = COL[p.col];
  const wrap = document.createElement('div');
  wrap.className='pn';
  wrap.style.left=c.left+'px'; wrap.style.top=p.top+'px';
  wrap.style.width=c.w+'px'; wrap.style.height=p.h+'px';
  const cv=document.createElement('canvas');
  wrap.appendChild(cv);
  document.getElementById('charts').appendChild(wrap);
  const axisCol='#2a2a2a';
  new Chart(cv, {
    type:'line',
    data:{datasets:p.series},
    options:{
      responsive:true, maintainAspectRatio:false, animation:false, events:[],
      layout:{padding:{top:14, right:c.padR, bottom:p.showX?0:2, left:0}},
      plugins:{legend:{display:false}, tooltip:{enabled:false}, bg:p.bg, marks:p.marks||{}},
      scales:{
        x:{type:'linear', min:0.075, max:0.25, display:!!p.showX,
           afterBuildTicks:s=>{s.ticks=xTicks.map(v=>({value:v}));},
           afterFit:s=>{s.height=p.showX?40:0; s.paddingLeft=0; s.paddingRight=0;},
           ticks:{callback:v=>Number(v).toFixed(3), font:{family:FONT, size:18, weight:'bold'}, color:'#111', padding:1, maxRotation:0, autoSkip:false},
           grid:{drawOnChartArea:false, drawTicks:true, tickLength:6, tickColor:axisCol, tickWidth:1.5},
           border:{display:true, color:axisCol, width:2}},
        y:{type:'linear', min:p.ymin, max:p.ymax,
           afterBuildTicks:s=>{s.ticks=p.ticks.map(v=>({value:v}));},
           afterFit:s=>{s.width=c.yw; s.paddingTop=0; s.paddingBottom=0;},
           ticks:{callback:v=>Number(v).toFixed(p.dec), font:{family:FONT, size:19, weight:'bold'}, color:'#111', padding:p.ypad, autoSkip:false},
           grid:{drawOnChartArea:false, drawTicks:true, tickLength:6, tickColor:axisCol, tickWidth:1.5},
           border:{display:true, color:axisCol, width:2}}
      }
    },
    plugins:[bgPlugin, marksPlugin]
  });
}

const bg1 = {split:pfChangeT, c1:'#fdfcd0', c2:'#e8eedb'};
const bgG = {c:'#efefef'};
const bg4 = {c:'#efefef', bottomGap:7};

const panels = [
 {col:'L', top:64, h:151, ymin:-0.475, ymax:0.406, ticks:vTicks, dec:2, ypad:11, bg:bg1,
  series:[S(tFine,vsa,BLUE,MB,'circle',10,0,1,4.5), S(tFine,isaL,ORG,MO,'rect',13,2,0,6)]},
 {col:'R', top:64, h:151, ymin:-0.475, ymax:0.406, ticks:vTicks, dec:2, ypad:16, bg:bg1,
  series:[S(tFine,vsa,BLUE,MB,'circle',10,0,1,4.5), S(tFine,isaR,ORG,MO,'rect',13,2,0,6)]},
 {col:'L', top:237, h:149, ymin:-0.00421, ymax:0.01757, ticks:qTicksL, dec:4, ypad:11, bg:bgG,
  marks:{pts:kvarPtsL, arrows:[[1,6,3,22,13,25],[5,-5,12,-17,33,-17]]},
  series:[S(tHalf,qapfL,BLUE,MB,'circle',7,0,2,5,0.3), S(tHalf,qsL,MAG,MM,'rect',9,1,1,5,0.3), S(tHalf,qlL,ORG,MO,'triangle',11,3,0,5,0.3)]},
 {col:'R', top:240, h:146, ymin:-0.0073, ymax:0.01691, ticks:qTicksR, dec:4, ypad:11, bg:bgG,
  marks:{pts:kvarPtsR, arrows:[[5,-6,9,-20,28,-21],[5,6,10,16,30,16],[5,6,10,20,31,21]]},
  series:[S(tHalf,qapfR,BLUE,MB,'circle',7,0,1,5,0.3), S(tHalf,qsR,MAG,MM,'rect',9,1,2,5,0.3), S(tHalf,qlR,ORG,MO,'triangle',11,3,0,5,0.3)]},
 {col:'L', top:407, h:150, ymin:-0.1496, ymax:0.1239, ticks:iTicks, dec:3, ypad:11, bg:bgG,
  series:[S(tFine,iaL,BLUE,MB,'circle',10,0,2,4.5), S(tFine,ibL,MAG,MM,'rect',13,3,1,4.5), S(tFine,icL,ORG,MO,'triangle',16,6,0,4.5)]},
 {col:'R', top:407, h:150, ymin:-0.1496, ymax:0.1239, ticks:iTicks, dec:3, ypad:11, bg:bgG,
  series:[S(tFine,iaR,BLUE,MB,'circle',10,0,2,4.5), S(tFine,ibR,MAG,MM,'rect',13,3,1,4.5), S(tFine,icR,ORG,MO,'triangle',16,6,0,4.5)]},
 {col:'L', top:578, h:194, showX:true, ymin:-4.26, ymax:20.12, ticks:thdTicks, dec:1, ypad:2, bg:bg4,
  series:[S(tHalf,thdAL,BLUE,MB,'circle',7,0,2,4.5,0.25), S(tHalf,thdBL,MAG,MM,'rect',9,1,1,4.5,0.25), S(tHalf,thdCL,ORG,MO,'triangle',11,4,0,4.5,0.25)]},
 {col:'R', top:578, h:194, showX:true, ymin:-4.26, ymax:20.12, ticks:thdTicks, dec:1, ypad:9, bg:bg4,
  series:[S(tHalf,thdAR,BLUE,MB,'circle',7,0,2,4.5,0.25), S(tHalf,thdBR,MAG,MM,'rect',9,1,1,4.5,0.25), S(tHalf,thdCR,ORG,MO,'triangle',11,4,0,4.5,0.25)]}
];
panels.forEach(makePanel);
</script>
</body></html>
